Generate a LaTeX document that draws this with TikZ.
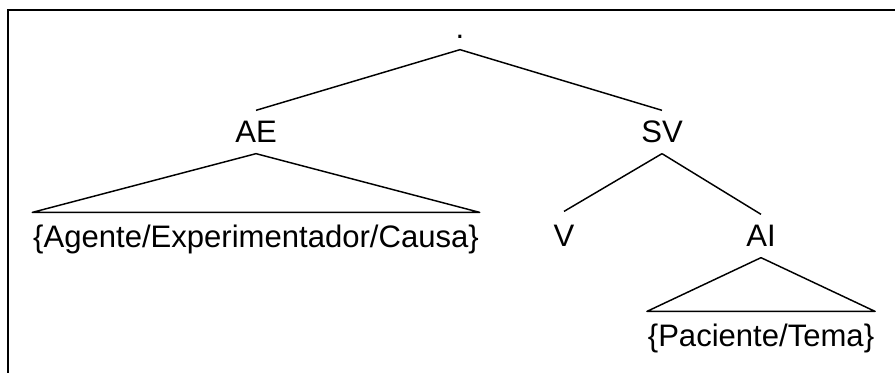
\documentclass[tikz,border=0pt]{standalone}
\usepackage{fontspec}
\setmainfont{Liberation Sans}
\usepackage{tikz}

\begin{document}
\begin{tikzpicture}[x=0.75pt, y=-0.75pt,
  cat/.style={font=\fontsize{23.3}{28}\selectfont, anchor=base, inner xsep=0.5pt,
    inner ysep=7.8pt, text height=16.5pt, text depth=0pt},
  leaf/.style={cat, inner ysep=10pt},
  branch/.style={line width=1.1pt, line join=round}]
  \useasboundingbox (0,0) rectangle (895,373);
  \draw[line width=1.5pt] (895,10.5) -- (8,10.5) -- (8,373);

  \node[cat] (root) at (460,39) {.};
  \node[cat] (ae) at (256,143) {AE};
  \node[cat] (sv) at (662,143) {SV};
  \node[leaf] (agente) at (256,248) {\{Agente/Experimentador/Causa\}};
  \node[leaf] (v) at (564,247) {V};
  \node[cat] (ai) at (761,247) {AI};
  \node[leaf] (paciente) at (761,347) {\{Paciente/Tema\}};

  \draw[branch] (root.south) -- (ae.north);
  \draw[branch] (root.south) -- (sv.north);
  \draw[branch] (sv.south) -- (v.north);
  \draw[branch] (sv.south) -- (ai.north);
  \draw[branch] (ae.south) -- (agente.north west) -- (agente.north east) -- cycle;
  \draw[branch] (ai.south) -- (paciente.north west) -- (paciente.north east) -- cycle;
\end{tikzpicture}
\end{document}
